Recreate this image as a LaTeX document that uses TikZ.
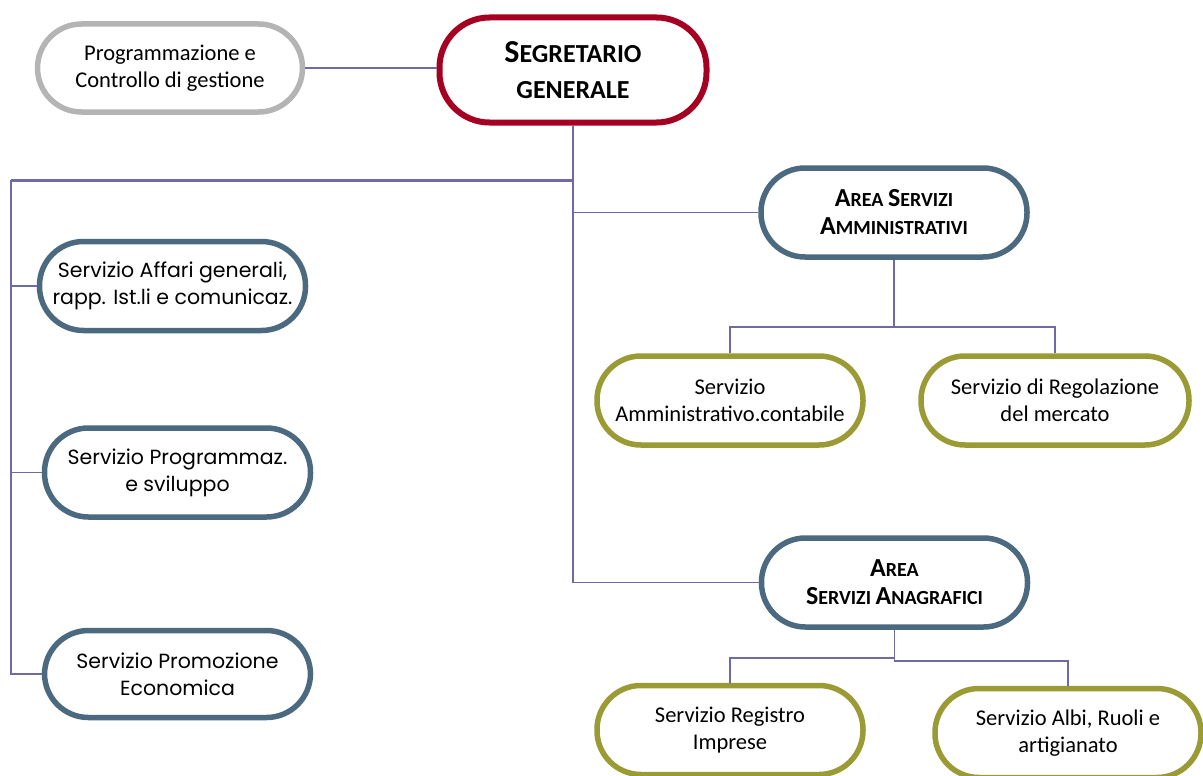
\documentclass[tikz,border=0pt]{standalone}
\usepackage{fontspec}
\setmainfont{Carlito}
\newfontfamily\geo{Poppins}
\definecolor{cred}{HTML}{A50021}
\definecolor{cblue}{HTML}{4B6A80}
\definecolor{colive}{HTML}{9B9B36}
\definecolor{cgray}{HTML}{B4B4B4}
\definecolor{cline}{HTML}{6E6AA6}
\newcommand{\bigsc}[2]{{\fontsize{#1}{#1}\selectfont #2}}
\begin{document}
\begin{tikzpicture}[x=1pt,y=-1pt,
  box/.style={draw, line width=5.5pt, rounded corners=44pt, align=center, fill=white, inner sep=0pt,
    minimum width=266pt, minimum height=89pt, font=\fontsize{22.5}{27}\selectfont},
  gbox/.style={box, draw=cblue, font=\geo\fontsize{20.5}{27}\selectfont},
  abox/.style={box, draw=cblue, font=\bfseries\fontsize{20}{28}\selectfont},
  obox/.style={box, draw=colive},
  conn/.style={draw=cline, line width=1.6pt},
]
\useasboundingbox (0,0) rectangle (1203,776);
\clip (0,0) rectangle (1203,776);
\fill[white] (0,0) rectangle (1203,776);

% nodes
\node[box, draw=cgray, minimum width=265pt, minimum height=88pt] (prog) at (170,68) {Programmazione e\\Controllo di gestione};
\node[box, draw=cred, line width=6pt, minimum width=267pt, minimum height=105pt, rounded corners=50pt,
  font=\bfseries\fontsize{26}{36}\selectfont] (seg) at (573,70)
  {\bigsc{32}{S}EGRETARIO\\GENERALE};
\node[gbox] (aff) at (172.5,286) {Servizio Affari generali,\\rapp. Ist.li e comunicaz.};
\node[gbox] (prz) at (177.5,472.5) {Servizio Programmaz.\\e sviluppo};
\node[gbox, minimum height=87pt] (pro) at (177.5,674) {Servizio Promozione\\Economica};
\node[abox] (aam) at (894,212.5) {\bigsc{26}{A}REA \bigsc{26}{S}ERVIZI\\\bigsc{26}{A}MMINISTRATIVI};
\node[obox] (sac) at (730,400.5) {Servizio\\Amministrativo.contabile};
\node[obox, minimum width=268pt] (reg) at (1055,400.5) {Servizio di Regolazione\\del mercato};
\node[abox] (aan) at (894.5,582.5) {\bigsc{26}{A}REA\\\bigsc{26}{S}ERVIZI \bigsc{26}{A}NAGRAFICI};
\node[obox] (rim) at (730,730) {Servizio Registro\\Imprese};
\node[obox] (alb) at (1068,733) {Servizio Albi, Ruoli e\\artigianato};

% connectors
\coordinate (tl) at (11,180);
\coordinate (tr) at (573,180);
\draw[conn] (prog.east) -- (prog.east -| seg.west);
\draw[conn] (seg.south) |- (aan.west);
\draw[conn] (seg.south |- aam.west) -- (aam.west);
\draw[draw=cline, line width=3pt] (tr) -- (tl);
\draw[conn] (tl) |- (pro.west);
\draw[conn] (tl |- aff.west) -- (aff.west);
\draw[conn] (tl |- prz.west) -- (prz.west);
\draw[conn] (aam.south) -- ++(0,67) coordinate (b1);
\draw[conn] (b1) -| (sac.north);
\draw[conn] (b1) -| (reg.north);
\draw[conn] (aan.south) -- ++(0,28) coordinate (b2);
\draw[conn] (b2) -| (rim.north);
\draw[conn] (b2) -- ++(0,3) -| (alb.north);
\end{tikzpicture}
\end{document}
